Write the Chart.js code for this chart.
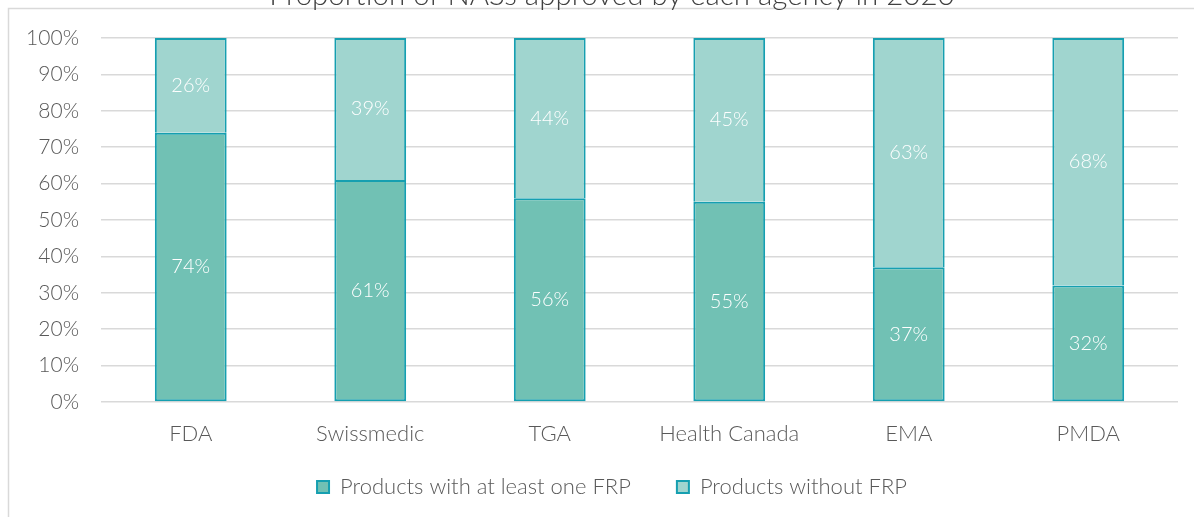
<!DOCTYPE html>
<html><head><meta charset="utf-8">
<style>html,body{margin:0;padding:0;background:#fff;overflow:hidden}#wrap{width:1194px;height:517px;position:relative}</style>
<script src="https://cdn.jsdelivr.net/npm/chart.js@4/dist/chart.umd.min.js"></script>
</head><body><div id="wrap"><canvas id="c" width="1194" height="517"></canvas></div>
<script>
const categories = ["FDA", "Swissmedic", "TGA", "Health Canada", "EMA", "PMDA"];
const withFRP = [74, 61, 56, 55, 37, 32];
const withoutFRP = [26, 39, 44, 45, 63, 68];
const seriesNames = ["Products with at least one FRP", "Products without FRP"];
const yTickValues = [0, 10, 20, 30, 40, 50, 60, 70, 80, 90, 100];
const titleText = "Proportion of NASs approved by each agency in 2020";

const FONT = "Lato, 'Open Sans', sans-serif";
const TXT = "#595959";
const EDGE = "#169fb0";

const framePlugin = {
  id: 'frame',
  beforeDraw(chart) {
    const ctx = chart.ctx;
    ctx.save();
    ctx.fillStyle = '#fff';
    ctx.fillRect(0, 0, chart.width, chart.height);
    ctx.strokeStyle = '#d9d9d9';
    ctx.lineWidth = 1.5;
    ctx.beginPath();
    ctx.moveTo(8.5, chart.height);
    ctx.lineTo(8.5, 8.5);
    ctx.lineTo(chart.width, 8.5);
    ctx.stroke();
    ctx.fillStyle = '#404040';
    ctx.font = "300 29.5px " + FONT;
    ctx.textAlign = 'center';
    ctx.textBaseline = 'alphabetic';
    ctx.fillText(titleText, 612, 5);
    ctx.restore();
  }
};

const labelPlugin = {
  id: 'seglabels',
  afterDatasetsDraw(chart) {
    const ctx = chart.ctx;
    ctx.save();
    ctx.fillStyle = '#ffffff';
    ctx.font = "300 20px " + FONT;
    ctx.textAlign = 'center';
    ctx.textBaseline = 'middle';
    chart.data.datasets.forEach((ds, di) => {
      const meta = chart.getDatasetMeta(di);
      meta.data.forEach((el, i) => {
        const p = el.getCenterPoint();
        ctx.fillText(ds.data[i] + '%', p.x, p.y);
      });
    });
    ctx.restore();
  }
};

new Chart(document.getElementById('c'), {
  type: 'bar',
  data: {
    labels: categories,
    datasets: [
      { label: seriesNames[0], data: withFRP, backgroundColor: '#71c1b4', borderColor: EDGE, borderWidth: 2, borderSkipped: false, barPercentage: 0.4, categoryPercentage: 1 },
      { label: seriesNames[1], data: withoutFRP, backgroundColor: '#a0d5cf', borderColor: EDGE, borderWidth: 2, borderSkipped: 'bottom', barPercentage: 0.4, categoryPercentage: 1 }
    ]
  },
  options: {
    responsive: false,
    animation: false,
    devicePixelRatio: 1,
    layout: { padding: { left: 46, right: 16, top: 38, bottom: 9 } },
    plugins: {
      title: { display: false },
      tooltip: { enabled: false },
      legend: {
        position: 'bottom',
        labels: {
          boxWidth: 12, boxHeight: 12, padding: 46,
          color: TXT, font: { family: FONT, size: 22, weight: 300 }
        }
      }
    },
    scales: {
      x: {
        stacked: true,
        grid: { display: false, drawTicks: false },
        border: { display: false },
        afterFit(axis) { axis.height = 28; axis._computeLabelArea = () => undefined; },
        ticks: { color: TXT, font: { family: FONT, size: 22, weight: 300 }, padding: 19 }
      },
      y: {
        stacked: true,
        min: 0, max: 100,
        afterBuildTicks(axis) { axis.ticks = yTickValues.map(v => ({ value: v })); },
        afterFit(axis) { axis.width = 55; axis._computeLabelArea = () => undefined; },
        grid: { color: '#d9d9d9', lineWidth: 1.5, drawTicks: false },
        border: { display: false },
        ticks: { color: TXT, font: { family: FONT, size: 21, weight: 300 }, padding: 22, callback: v => v + '%' }
      }
    }
  },
  plugins: [framePlugin, labelPlugin]
});
</script></body></html>
